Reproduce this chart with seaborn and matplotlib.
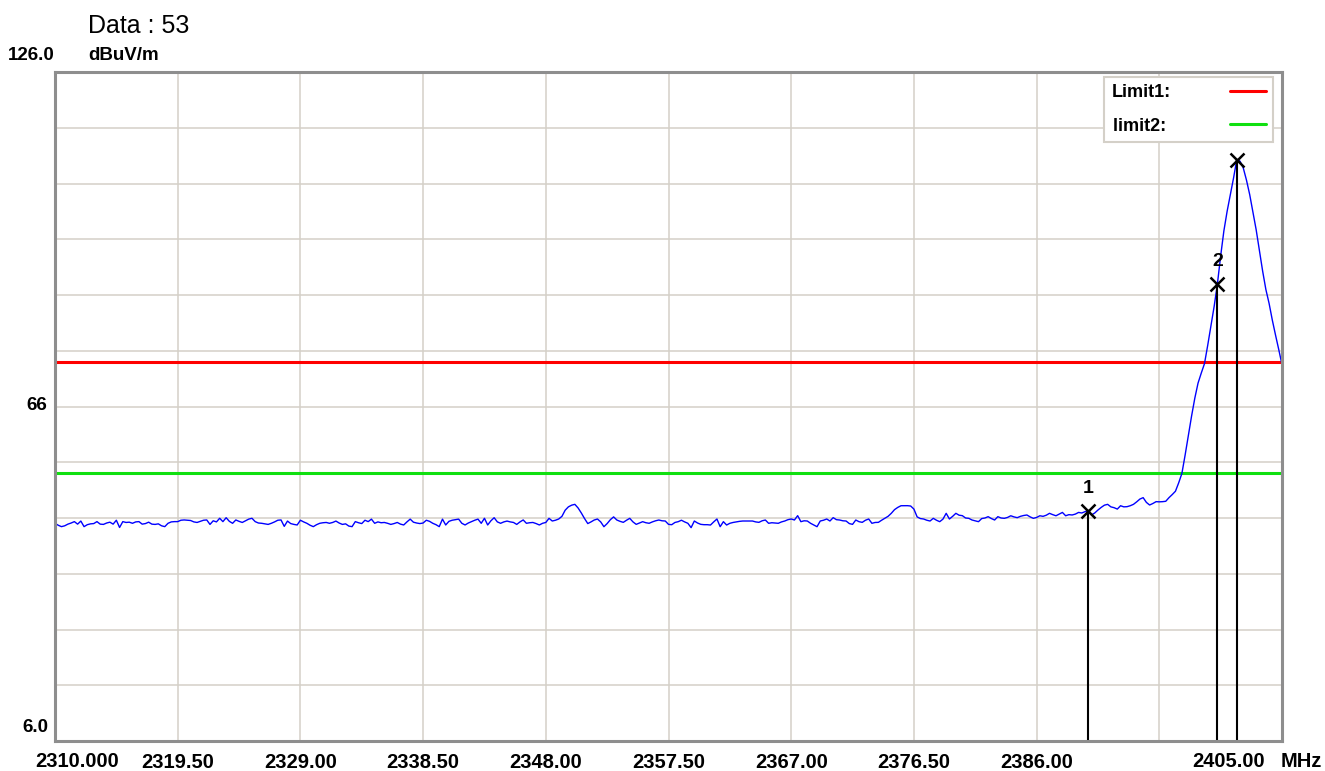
import numpy as np
import pandas as pd
import matplotlib
matplotlib.use("Agg")
import matplotlib.pyplot as plt
import seaborn as sns
from matplotlib.lines import Line2D

# ---- sweep data -------------------------------------------------------------
start_mhz = 2310.0
stop_mhz = 2405.0

# measured level (dBuV/m), one reading per 0.25 MHz across the sweep
level_dbuv = [
    45.05, 44.7, 44.45, 44.6, 44.9, 45.1, 45.35, 44.9, 45.45, 44.45,
    44.8, 44.95, 45.0, 45.35, 44.9, 44.85, 45.1, 45.25, 44.9, 45.6,
    44.3, 45.35, 45.2, 45.25, 45.05, 45.3, 45.35, 44.9, 45.0, 45.25,
    44.9, 44.85, 44.95, 44.6, 44.45, 45.05, 45.3, 45.35, 45.35,
    45.6, 45.65, 45.6, 45.55, 45.3, 45.2, 45.4, 45.6, 45.65, 44.85,
    45.5, 45.3, 45.95, 45.35, 46.05, 45.4, 45.05, 45.65, 45.4, 45.2,
    45.5, 45.8, 45.95, 45.35, 45.1, 45.05, 44.95, 44.85, 45.05, 45.3,
    45.6, 45.65, 44.5, 45.45, 45.0, 44.85, 44.75, 45.6,
    45.3, 45.05, 44.7, 44.45, 44.8, 45.05, 45.15, 45.2, 45.05, 45.2,
    45.45, 45.1, 44.85, 44.95, 44.55, 44.45, 45.35, 45.15, 45.0, 45.6,
    45.35, 45.8, 45.05, 45.3, 45.15, 45.2, 45.05, 44.85, 45.0, 45.2,
    44.9, 44.75, 45.3, 45.8, 45.25, 45.1, 45.0, 45.1,
    45.6, 45.4, 45.05, 44.8, 44.45, 45.8, 44.75, 45.4, 45.6, 45.7,
    45.8, 45.05, 44.75, 45.1, 45.35, 45.6, 45.8, 45.05, 45.95, 44.75,
    45.5, 46.05, 45.3, 45.05, 45.3, 45.45, 45.3, 45.2, 44.85, 45.3,
    45.65, 45.05, 45.15, 45.2, 45.0, 44.75, 45.05, 45.2,
    45.94, 45.46, 45.6, 45.82, 46.3, 47.4, 48.0, 48.3, 48.45, 47.8,
    46.9, 45.9, 45.0, 45.3, 45.64, 45.82, 45.3, 44.44, 45.0, 45.7,
    46.2, 45.64, 45.4, 45.22, 45.6, 45.94, 45.3, 44.86, 45.1, 45.34,
    45.15, 45.05, 45.3, 45.5, 45.64, 45.5, 45.46, 44.86,
    44.8, 45.2, 45.34, 45.6, 45.3, 45.05, 44.27, 45.46, 45.1, 44.86,
    44.8, 44.8, 44.74, 45.3, 45.82, 44.44, 45.34, 44.74, 45.05, 45.2,
    45.3, 45.4, 45.46, 45.46, 45.46, 45.46, 45.3, 45.22, 45.5, 45.64,
    45.05, 45.15, 45.1, 45.05, 45.3, 45.46, 45.7, 45.82,
    45.64, 46.42, 45.34, 45.5, 45.46, 45.05, 44.74, 44.44, 45.46, 45.6,
    45.82, 45.46, 46.06, 45.7, 45.64, 45.5, 45.46, 45.0, 44.86, 45.64,
    45.34, 45.22, 45.6, 45.82, 45.05, 45.2, 45.22, 45.6, 45.94, 46.3,
    46.84, 47.5, 47.9, 48.2, 48.2, 48.21, 48.15, 47.6,
    46.2, 45.9, 45.82, 45.6, 45.46, 45.94, 45.6, 45.34, 45.8, 46.84,
    45.82, 46.3, 46.84, 46.5, 46.42, 46.0, 45.94, 45.64, 45.5, 45.34,
    45.9, 46.0, 46.24, 45.9, 45.64, 46.24, 46.0, 45.94, 46.1, 46.4,
    46.2, 46.06, 46.3, 46.45, 46.54, 46.2, 45.94, 46.1,
    46.4, 46.3, 46.5, 46.84, 46.6, 46.4, 46.7, 47.0, 46.4, 46.6,
    46.54, 46.7, 47.0, 46.9, 47.14, 47.3, 46.54, 46.9, 47.43, 47.9,
    48.3, 48.45, 48.0, 47.85, 47.6, 48.2, 48.0, 48.03, 48.2, 48.45,
    48.9, 49.4, 49.65, 48.8, 48.33, 48.6, 48.93, 48.9,
    48.93, 49.0, 49.65, 50.2, 50.8, 52.3, 54.0, 57.3, 60.8, 64.3,
    67.5, 70.2, 72.0, 73.7, 77.0, 80.5, 84.0, 88.0, 93.0, 97.5,
    101.0, 104.0, 107.0, 110.3, 110.0, 108.8, 106.6, 104.0, 100.8, 97.7,
    94.0, 90.3, 87.0, 84.5, 81.5, 78.8, 76.2, 73.5,
]

limit_names = ["Limit1:", "limit2: "]
limit_levels = [74.0, 54.0]
limit_colors = ["#ff0000", "#10e010"]

marker_ids = ["1", "2", "3"]
marker_freq = [2390.0, 2400.0, 2401.5]
marker_level = [47.3, 88.0, 110.3]

grid_freqs = [2319.5, 2329.0, 2338.5, 2348.0, 2357.5, 2367.0, 2376.5, 2386.0, 2395.5]
grid_freq_labels = ["2319.50", "2329.00", "2338.50", "2348.00", "2357.50",
                    "2367.00", "2376.50", "2386.00", ""]
grid_levels = [16, 26, 36, 46, 56, 66, 76, 86, 96, 106, 116]

y_min, y_max = 6.0, 126.0

trace = pd.DataFrame({
    "freq_mhz": np.linspace(start_mhz, stop_mhz, len(level_dbuv)),
    "level_dbuv": level_dbuv,
})

# ---- figure -----------------------------------------------------------------
sns.set_style("white")
plt.rcParams["font.family"] = ["Liberation Sans", "DejaVu Sans"]
plt.rcParams["text.color"] = "black"
plt.rcParams["xtick.color"] = "black"
plt.rcParams["ytick.color"] = "black"

W, H = 1325, 771
fig = plt.figure(figsize=(W / 100, H / 100), dpi=100)
fig.patch.set_facecolor("white")
ax = fig.add_axes([55 / W, 1 - 741 / H, (1282 - 55) / W, (741 - 72) / H])

ax.set_xlim(start_mhz, stop_mhz)
ax.set_ylim(y_min, y_max)

# grid
ax.set_yticks(grid_levels)
ax.set_xticks(grid_freqs)
ax.set_xticklabels(grid_freq_labels, fontsize=14.5, fontweight="bold")
ax.grid(True, color="#d4d0c8", linewidth=1.1, zorder=0)
ax.set_axisbelow(True)
ax.tick_params(axis="both", length=0)
ax.tick_params(axis="x", pad=8.5, labelcolor="black")
ax.tick_params(axis="y", labelleft=False)
for s in ax.spines.values():
    s.set_color("#8e8e8e")
    s.set_linewidth(2.2)
    s.set_zorder(8)

# limit lines
for lvl, col in zip(limit_levels, limit_colors):
    ax.axhline(lvl, color=col, linewidth=2.2, zorder=2)

# measured trace
sns.lineplot(data=trace, x="freq_mhz", y="level_dbuv", color="#0000ff",
             linewidth=1.0, ax=ax, zorder=3)
ax.set_xlabel("")
ax.set_ylabel("")

# markers
ax.vlines(marker_freq, y_min, marker_level, color="black", linewidth=1.5, zorder=5)
ax.plot(marker_freq, marker_level, linestyle="none", marker="x", color="black",
        markersize=9.5, markeredgewidth=1.8, zorder=6)
for mid, f, v in zip(marker_ids, marker_freq, marker_level):
    ax.annotate(mid, (f, v), xytext=(0, 16), textcoords="offset points",
                ha="center", va="center", fontsize=14, fontweight="bold",
                zorder=6)

# legend (drawn above marker 3's label)
handles = [Line2D([], [], color=c, linewidth=2.2) for c in limit_colors]
leg = ax.legend(handles, limit_names, loc="upper right",
                bbox_to_anchor=(0.9929, 0.993), borderaxespad=0,
                markerfirst=False, frameon=True, fancybox=False,
                edgecolor="#d4d0c8", facecolor="white", framealpha=1,
                prop={"weight": "bold", "size": 13},
                handlelength=1.95, handletextpad=3.3,
                labelspacing=0.9, borderpad=0.42)
leg.get_frame().set_linewidth(1.5)
leg.set_zorder(10)

# header and axis annotations
fig.text(88 / W, 1 - 33 / H, "Data : 53", fontsize=18, ha="left", va="baseline")
fig.text(8 / W, 1 - 60 / H, "126.0", fontsize=13.5, fontweight="bold",
         ha="left", va="baseline")
fig.text(88 / W, 1 - 60 / H, "dBuV/m", fontsize=13.5, fontweight="bold",
         ha="left", va="baseline")
fig.text(47 / W, 1 - 405 / H, "66", fontsize=13.5, fontweight="bold",
         ha="right", va="center")
fig.text(48 / W, 1 - 727 / H, "6.0", fontsize=13.5, fontweight="bold",
         ha="right", va="center")
fig.text(35 / W, 1 - 767 / H, "2310.000", fontsize=14.5, fontweight="bold",
         ha="left", va="baseline")
fig.text(1265 / W, 1 - 767 / H, "2405.00", fontsize=14.5, fontweight="bold",
         ha="right", va="baseline")
fig.text(1322 / W, 1 - 767 / H, "MHz", fontsize=14.5, fontweight="bold",
         ha="right", va="baseline")

fig.savefig("out.png", dpi=100, facecolor="white")
